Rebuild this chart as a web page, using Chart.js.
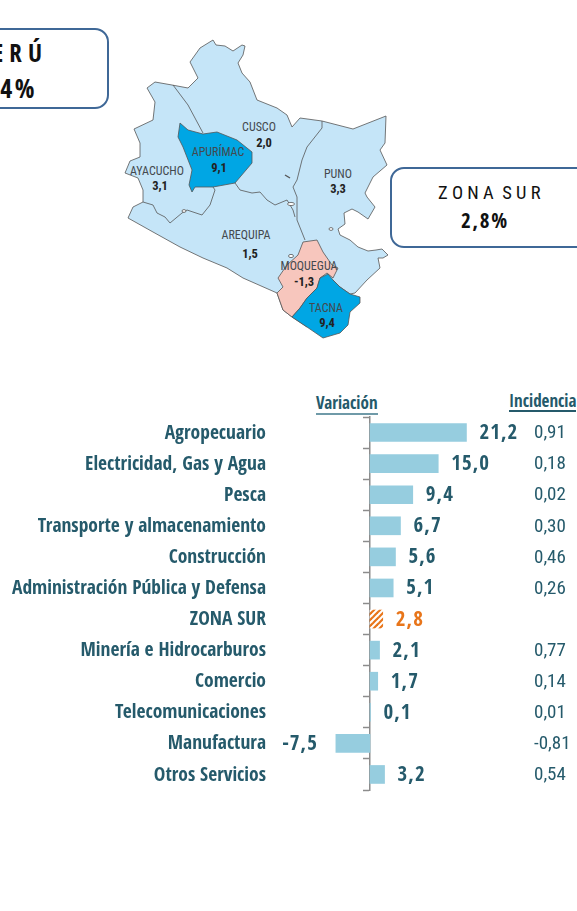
<!DOCTYPE html>
<html><head><meta charset="utf-8">
<script src="https://cdn.jsdelivr.net/npm/chart.js@4"></script>
<style>
html,body{margin:0;padding:0;background:#fff;width:577px;height:911px;overflow:hidden}
body{position:relative;font-family:"Open Sans Condensed","Roboto Condensed",sans-serif}
#map,#c{position:absolute;left:0;top:0}
.box{position:absolute;border:2px solid #3F6897;border-radius:14px;box-sizing:border-box;background:#fff}
.t{position:absolute;white-space:nowrap;color:#111}
.h{position:absolute;white-space:nowrap;color:#255A6B;font-weight:bold;font-size:17px;line-height:18px}
#map text{font-family:"Roboto Condensed",sans-serif;text-anchor:middle;fill:#44494e;font-size:12px}
#map text.v{font-weight:bold;fill:#222;font-size:12.5px}
</style></head><body>
<svg id="map" width="577" height="911" viewBox="0 0 577 911">
<g stroke="#555" stroke-width="0.8" stroke-linejoin="round" fill="none">
<path fill="#C5E5F8" d="M213,40 216,45 225,46 233,51 242,45 245,46 243,55 238,63 242,73 250,82 257,100 277,108 287,115 292,127 300,118 322,121 353,129 386,116 385,143 380,150 387,165 373,177 365,193 367,197 375,207 368,219 358,212 352,209 344,213 345,224 338,229 340,235 350,240 358,247 368,251 376,250 382,249 388,255 383,258 378,258 380,268 367,280 355,293 350,294 340,287 333,280 323,300 307,327 292,317 283,310 277,293 243,278 227,268 203,258 180,247 153,232 128,218 133,207 143,202 143,190 138,178 125,173 130,161 140,157 140,143 134,129 153,120 155,102 147,88 155,82 172,85 188,88 198,78 190,62 200,48Z"/>
<path d="M173,85 188,105 203,133"/>
<path d="M143,202 153,205 157,213 165,217 170,223 182,213 187,210 202,215 210,205 215,190 213,187"/>
<path d="M235,183 240,190 252,193 260,192 267,200 275,205 287,200 293,210 295,217"/>
<path d="M322,121 322,128 307,147 302,160 297,180 293,187 297,197 297,220 305,240"/>
<path fill="#00A6E4" d="M180,123 188,130 203,134 217,132 237,140 252,152 252,163 235,183 213,187 195,187 192,192 189,185 192,170 183,147 178,137Z"/>
<path fill="#F7C6BD" d="M303,242 317,240 323,252 332,265 338,268 333,278 327,273 320,278 317,288 307,298 300,308 292,317 283,310 277,293 283,287 278,278 287,265 298,255Z"/>
<path fill="#00A6E4" d="M328,274 333,280 340,287 350,294 360,297 360,303 350,312 348,325 340,333 323,338 307,327 292,317 300,308 307,298 317,288 320,278Z"/>
<path d="M285,175 290,178" stroke-width="1.4"/>
<ellipse cx="291" cy="204" rx="3.5" ry="1.6" fill="#fff"/>
<ellipse cx="331" cy="229" rx="2" ry="1.4" fill="#fff"/>
<ellipse cx="291" cy="256" rx="2.5" ry="1.6" fill="#fff"/>
<ellipse cx="184" cy="211" rx="2" ry="1.4" fill="#fff"/>
</g>
<text x="259" y="131">CUSCO</text><text class="v" x="264" y="147">2,0</text>
<text x="218" y="156">APURÍMAC</text><text class="v" x="219" y="172">9,1</text>
<text x="157" y="175">AYACUCHO</text><text class="v" x="160" y="190">3,1</text>
<text x="338" y="178">PUNO</text><text class="v" x="338" y="193">3,3</text>
<text x="246" y="239">AREQUIPA</text><text class="v" x="250" y="258">1,5</text>
<text x="309" y="270">MOQUEGUA</text><text class="v" x="304" y="286">-1,3</text>
<text x="326" y="312">TACNA</text><text class="v" x="327" y="327">9,4</text>
</svg>
<div class="box" style="left:-40px;top:28px;width:149px;height:81px"></div>
<div class="t" style="right:535px;top:37px;font-size:25px;line-height:30px;font-weight:bold;letter-spacing:0px">E R Ú</div>
<div class="t" style="right:540px;top:73px;font-size:26px;line-height:30px;font-weight:bold;letter-spacing:2.5px">4%</div>
<div class="box" style="left:390px;top:167px;width:230px;height:81px"></div>
<div class="t" style="left:438px;top:181px;font-family:'Roboto Condensed',sans-serif;font-size:18.5px;line-height:24px;letter-spacing:0">Z O N A&nbsp; S U R</div>
<div class="t" style="left:461px;top:207px;font-size:21px;line-height:26px;font-weight:bold;letter-spacing:1.7px">2,8%</div>
<div class="h" style="left:316px;top:394px;border-bottom:2px solid #6f9aa8;padding-bottom:1px">Variación</div>
<div class="h" style="left:509px;top:392px;border-bottom:2px solid #255A6B;padding-bottom:0">Incidencia</div>
<canvas id="c" width="577" height="911"></canvas>
<script>
const categories = ["Agropecuario","Electricidad, Gas y Agua","Pesca","Transporte y almacenamiento","Construcción","Administración Pública y Defensa","ZONA SUR","Minería e Hidrocarburos","Comercio","Telecomunicaciones","Manufactura","Otros Servicios"];
const variacion = [21.2,15.0,9.4,6.7,5.6,5.1,2.8,2.1,1.7,0.1,-7.5,3.2];
const incidencia = ["0,91","0,18","0,02","0,30","0,46","0,26","","0,77","0,14","0,01","-0,81","0,54"];
const highlight = "ZONA SUR";
const FONT = '"Open Sans Condensed","Roboto Condensed",sans-serif';
const LIGHT = '"Roboto Condensed",sans-serif';
const TEXT = "#255A6B", BAR = "#96CDDF", ORANGE = "#E8751A";

function hatch(){
  const p=document.createElement("canvas");p.width=6;p.height=6;
  const g=p.getContext("2d");g.fillStyle="#fff";g.fillRect(0,0,6,6);
  g.strokeStyle=ORANGE;g.lineWidth=2.2;
  [[-1,7,7,-1],[-4,4,4,-4],[2,10,10,2]].forEach(a=>{g.beginPath();g.moveTo(a[0],a[1]);g.lineTo(a[2],a[3]);g.stroke();});
  return document.getElementById("c").getContext("2d").createPattern(p,"repeat");
}
const pat=hatch();

const labelsPlugin={id:"labels",afterDatasetsDraw(chart){
  const {ctx,scales:{x,y}}=chart;
  ctx.save();ctx.textBaseline="middle";
  categories.forEach((c,i)=>{
    const v=variacion[i],py=y.getPixelForValue(i)+1;
    ctx.font="bold 21px "+FONT;ctx.letterSpacing="1px";
    ctx.fillStyle=c===highlight?ORANGE:TEXT;
    const txt=v.toFixed(1).replace(".",",");
    if(v<0){ctx.textAlign="right";ctx.fillText(txt,x.getPixelForValue(v)-18,py);}
    else{ctx.textAlign="left";ctx.fillText(txt,x.getPixelForValue(v)+13,py);}
    ctx.font="19px "+LIGHT;ctx.letterSpacing="0px";ctx.fillStyle=TEXT;ctx.textAlign="left";
    ctx.fillText(incidencia[i],534,py);
  });
  ctx.restore();
}};

new Chart(document.getElementById("c"),{
  type:"bar",
  data:{labels:categories,datasets:[{data:variacion,clip:false,barThickness:18,
    backgroundColor:categories.map(c=>c===highlight?pat:BAR),borderWidth:0}]},
  options:{indexAxis:"y",responsive:false,animation:false,
    layout:{padding:{left:0,right:25,top:417,bottom:121}},
    plugins:{legend:{display:false},tooltip:{enabled:false}},
    scales:{
      x:{display:false,min:0,max:40},
      y:{position:"left",afterFit(s){s.width=370;},
        border:{display:true,color:"#8c8c8c",width:1.5},
        grid:{offset:true,drawOnChartArea:false,drawTicks:true,tickLength:7,tickColor:"#8c8c8c",tickWidth:1.5},
        ticks:{autoSkip:false,padding:97,labelOffset:1,color:TEXT,font:{family:FONT,weight:"bold",size:19.5}}}
    }},
  plugins:[labelsPlugin]
});
</script>
</body></html>
